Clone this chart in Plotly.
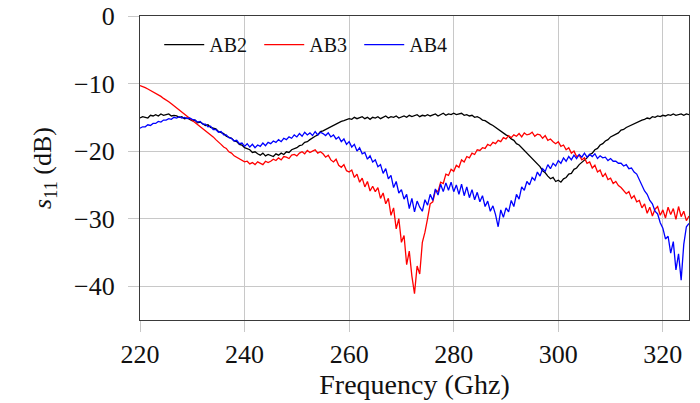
import plotly.graph_objects as go

# Sampled every 0.5 GHz from 220 GHz to 325 GHz (one row = 5 GHz)
f_start = 220.0
f_step = 0.5

ab2 = [
    -15.1, -14.9, -15.0, -15.1, -14.7, -14.8, -14.6, -14.8, -14.5, -14.7,
    -14.6, -14.5, -14.8, -14.7, -14.8, -15.0, -14.9, -15.2, -15.1, -15.3,
    -15.5, -15.4, -15.8, -15.7, -15.9, -16.2, -16.1, -16.5, -16.6, -16.7,
    -17.1, -17.3, -17.4, -17.8, -17.9, -18.1, -18.5, -18.6, -19.0, -19.1,
    -19.5, -19.7, -19.8, -20.2, -20.1, -20.4, -20.6, -20.3, -20.7, -20.5,
    -20.6, -20.8, -20.4, -20.6, -20.3, -20.5, -20.1, -20.2, -19.8, -19.7,
    -19.5, -19.2, -19.1, -18.7, -18.6, -18.3, -18.0, -17.8, -17.6, -17.1,
    -17.0, -16.8, -16.5, -16.4, -16.1, -16.0, -15.8, -15.6, -15.5, -15.4,
    -15.2, -15.3, -15.0, -15.2, -15.1, -14.9, -15.2, -15.0, -15.3, -15.0,
    -15.1, -14.9, -15.2, -15.0, -14.8, -15.1, -14.9, -15.0, -14.8, -15.1,
    -14.9, -14.8, -15.0, -14.7, -14.9, -14.8, -14.6, -14.9, -14.7, -14.8,
    -14.6, -14.8, -14.7, -14.5, -14.8, -14.6, -14.4, -14.7, -14.5, -14.6,
    -14.4, -14.6, -14.5, -14.4, -14.7, -14.6, -14.8, -14.7, -15.0, -14.9,
    -15.1, -15.4, -15.5, -15.8, -16.0, -16.2, -16.5, -16.7, -17.0, -17.3,
    -17.6, -17.8, -18.2, -18.4, -18.9, -19.1, -19.5, -19.9, -20.2, -20.6,
    -21.0, -21.5, -21.9, -22.3, -22.9, -23.2, -23.7, -24.1, -23.9, -24.5,
    -24.3, -24.6, -24.1, -23.9, -23.4, -23.3, -22.7, -22.5, -22.0, -21.7,
    -21.3, -21.0, -20.5, -20.3, -19.8, -19.6, -19.1, -18.9, -18.5, -18.3,
    -17.9, -17.7, -17.4, -17.3, -16.9, -16.8, -16.5, -16.3, -16.1, -16.0,
    -15.7, -15.6, -15.4, -15.3, -15.1, -15.2, -14.9, -15.0, -14.8, -14.9,
    -14.7, -14.8, -14.6, -14.7, -14.5, -14.7, -14.6, -14.5, -14.7, -14.5,
    -14.6,
]

ab3 = [
    -10.3, -10.4, -10.6, -10.8, -11.0, -11.2, -11.4, -11.7, -11.9, -12.2,
    -12.4, -12.7, -13.0, -13.3, -13.6, -13.9, -14.2, -14.5, -14.8, -15.1,
    -15.4, -15.7, -16.0, -16.3, -16.6, -16.9, -17.2, -17.6, -17.9, -18.3,
    -18.6, -19.0, -19.4, -19.6, -20.1, -20.3, -20.7, -20.9, -21.2, -21.3,
    -21.6, -21.5, -21.9, -21.7, -22.0, -21.6, -21.8, -22.0, -21.5, -21.7,
    -21.5, -21.2, -21.4, -21.0, -21.3, -20.8, -20.9, -21.1, -20.6, -20.5,
    -20.7, -20.3, -20.1, -20.4, -19.9, -20.2, -20.0, -19.8, -20.3, -20.1,
    -20.4, -20.9, -20.6, -21.3, -21.6, -21.2, -22.1, -22.4, -22.0, -22.9,
    -23.1, -22.8, -23.9, -23.4, -24.6, -24.0, -25.3, -24.5, -25.9, -25.2,
    -26.0, -25.4, -27.0, -26.2, -27.8, -27.0, -29.5, -28.4, -31.5, -30.0,
    -33.5, -32.5, -36.8, -34.8, -38.5, -41.1, -37.0, -38.2, -33.5, -32.0,
    -30.0, -27.8, -27.5, -25.8, -26.0, -24.6, -24.8, -23.4, -23.6, -22.7,
    -23.0, -22.1, -22.4, -21.3, -21.6, -20.8, -21.0, -20.3, -20.5, -19.8,
    -19.9, -19.5, -19.6, -19.0, -19.2, -18.7, -18.9, -18.4, -18.6, -18.0,
    -18.2, -17.7, -18.0, -17.6, -17.8, -17.4, -17.9, -17.3, -17.6, -17.5,
    -17.2, -17.8, -17.5, -17.6, -18.1, -17.7, -18.4, -18.2, -18.6, -18.9,
    -18.6, -19.3, -19.1, -19.8, -19.5, -20.3, -20.0, -20.8, -20.6, -21.3,
    -21.0, -21.8, -21.6, -22.5, -22.1, -23.1, -22.8, -23.8, -23.3, -24.2,
    -24.0, -24.8, -24.5, -25.1, -25.4, -25.8, -26.3, -26.0, -27.0, -26.6,
    -27.5, -27.3, -28.4, -27.8, -29.2, -28.3, -29.6, -28.6, -28.2, -29.5,
    -28.7, -29.9, -28.3, -29.4, -28.5, -30.1, -28.2, -29.7, -28.9, -30.3,
    -29.6,
]

ab4 = [
    -16.6, -16.4, -16.4, -16.1, -16.2, -15.9, -15.9, -15.6, -15.7, -15.4,
    -15.4, -15.2, -15.3, -15.0, -15.1, -14.9, -15.1, -15.0, -15.2, -15.1,
    -15.3, -15.4, -15.7, -15.6, -16.0, -16.0, -16.4, -16.3, -16.8, -16.8,
    -17.2, -17.1, -17.6, -17.6, -18.0, -18.1, -18.5, -18.4, -18.9, -18.8,
    -19.3, -18.9, -19.4, -19.0, -19.5, -19.1, -19.3, -18.8, -19.2, -18.7,
    -18.9, -18.5, -18.7, -18.3, -18.6, -18.1, -18.3, -17.9, -18.1, -17.6,
    -17.9, -17.4, -17.8, -17.2, -17.6, -17.3, -17.7, -17.1, -17.6, -17.2,
    -17.4, -17.7, -17.3, -17.9, -17.6, -18.2, -17.9, -18.6, -18.2, -19.0,
    -18.6, -19.4, -19.0, -20.0, -19.5, -20.4, -20.2, -21.2, -20.7, -21.6,
    -21.3, -22.3, -22.0, -23.3, -22.6, -24.1, -23.6, -25.4, -24.5, -26.2,
    -25.7, -27.1, -26.4, -28.5, -27.0, -29.0, -27.4, -28.3, -28.9, -27.2,
    -28.0, -26.4, -27.3, -25.6, -26.5, -24.9, -26.0, -24.7, -25.8, -24.6,
    -26.0, -25.0, -26.4, -24.9, -26.6, -25.3, -26.9, -25.7, -27.2, -26.1,
    -27.5, -26.6, -28.2, -27.4, -28.9, -28.1, -29.4, -31.2, -28.7, -29.8,
    -28.4, -29.0, -27.3, -28.2, -26.4, -27.1, -25.3, -25.8, -24.5, -25.0,
    -23.9, -24.3, -23.1, -23.7, -22.6, -23.0, -22.0, -22.6, -21.8, -22.2,
    -21.4, -21.8, -21.0, -21.5, -20.8, -21.3, -20.6, -21.1, -20.5, -20.9,
    -20.3, -20.9, -20.5, -20.8, -20.4, -21.1, -20.7, -21.0, -20.9, -21.4,
    -21.1, -21.5, -21.5, -21.8, -21.8, -22.2, -22.0, -22.6, -22.5, -23.1,
    -23.4, -24.2, -25.0, -25.9, -26.4, -27.3, -27.8, -28.9, -29.3, -30.6,
    -31.4, -33.0, -32.6, -35.1, -33.4, -37.6, -35.2, -39.1, -33.8, -31.2,
    -30.7,
]

x_ticks = [220, 240, 260, 280, 300, 320]
y_ticks = [0, -10, -20, -30, -40]
y_tick_text = ["0", "\u221210", "\u221220", "\u221230", "\u221240"]

series_names = ["AB2", "AB3", "AB4"]
series_colors = ["#000000", "#ff0000", "#0000ff"]

FONT = "Liberation Serif"

fig = go.Figure()
for name, ys, col in zip(series_names, [ab2, ab3, ab4], series_colors):
    freq = [f_start + f_step * i for i in range(len(ys))]
    fig.add_trace(go.Scatter(
        x=freq, y=ys, mode="lines", name=name,
        line=dict(color=col, width=1.3),
    ))

axis_common = dict(
    showgrid=True, gridcolor="#c8c8c8", gridwidth=1,
    showline=True, linecolor="#3a3a3a", linewidth=1.3, mirror=True,
    ticks="outside", ticklen=11, tickcolor="#c8c8c8", tickwidth=1,
    zeroline=False, automargin=False,
    tickfont=dict(family=FONT, size=26, color="#111111"),
)

fig.update_layout(
    width=700, height=403,
    margin=dict(l=140, r=11, t=16, b=83),
    paper_bgcolor="white", plot_bgcolor="white",
    font=dict(family=FONT, color="#111111"),
    showlegend=True,
    legend=dict(
        orientation="h", x=0.035, y=0.906, xanchor="left", yanchor="middle",
        font=dict(family=FONT, size=20, color="#111111"),
        bgcolor="rgba(0,0,0,0)", borderwidth=0,
        itemwidth=40, entrywidth=45, tracegroupgap=0,
    ),
    xaxis=dict(
        range=[220, 325], tickvals=x_ticks,
        title=dict(text="Frequency (Ghz)", font=dict(family=FONT, size=28), standoff=4),
        **axis_common,
    ),
    yaxis=dict(
        range=[-45, 0], tickvals=y_ticks, ticktext=y_tick_text,
        ticklabelstandoff=8,
        title=dict(text="<i>s</i><sub>11</sub> (dB)", font=dict(family=FONT, size=26), standoff=14),
        **axis_common,
    ),
)

fig.write_html("out.html", config={"displayModeBar": False},
               post_script="document.body.style.margin='0';")
